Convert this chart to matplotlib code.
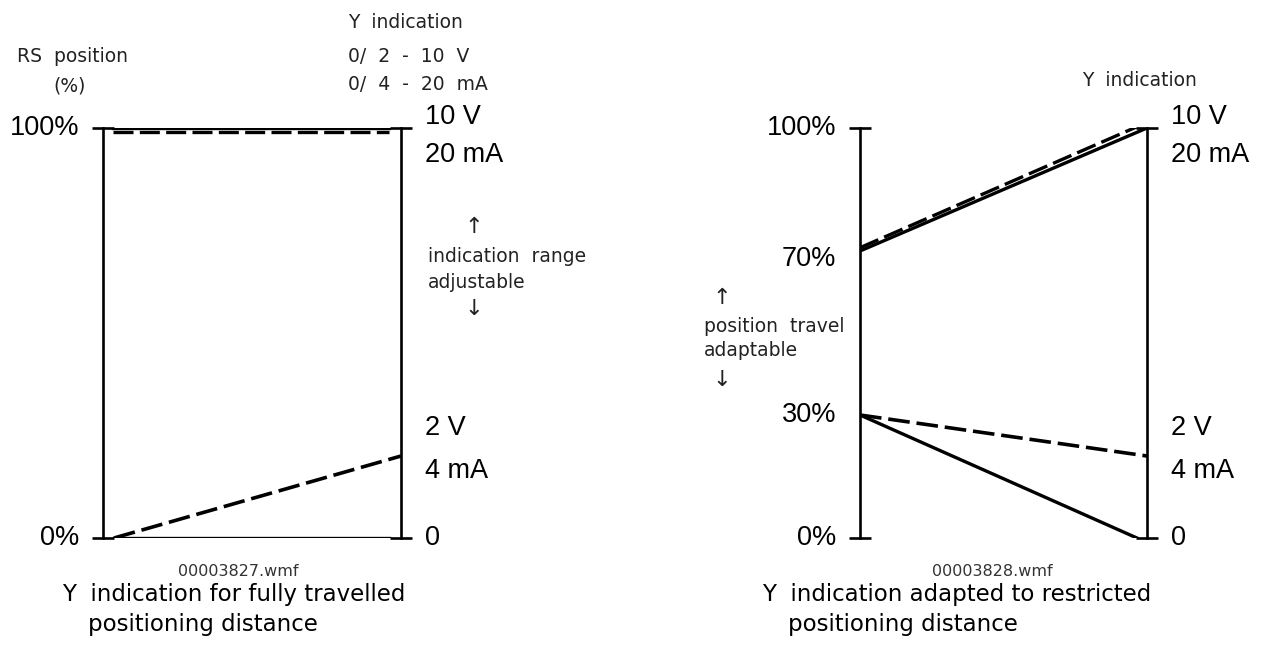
import numpy as np
import matplotlib.pyplot as plt

# left diagram: full travel
full_x = [0.0, 1.0]
full_top_solid = [100, 100]
full_top_dash = [99, 99]
full_bot_solid = [0, 0]
full_bot_dash = [0, 20]

# right diagram: restricted travel
restr_x = [0.0, 1.0]
restr_top_solid = [70, 100]
restr_top_dash = [70.8, 100.3]
restr_bot_solid = [30, 0]
restr_bot_dash = [30, 20]

W, H = 1267, 664
fig = plt.figure(figsize=(W / 100, H / 100), dpi=100)
big = dict(family='Liberation Sans', fontsize=19.5, color='black')
small = dict(family='DejaVu Sans', fontsize=13.5, color='#222222')
arrow = dict(family='DejaVu Sans', fontsize=16, color='#222222')
cap = dict(family='DejaVu Sans', fontsize=16.5, color='black')
DASH = (6, 1.9)


def px(x, y):
    return x / W, 1 - y / H


def setup(ax):
    ax.set_xlim(0, 1)
    ax.set_ylim(0, 100)
    for s in ['top', 'bottom']:
        ax.spines[s].set_visible(False)
    for s in ['left', 'right']:
        ax.spines[s].set_linewidth(1.9)
    ax.set_xticks([])
    ax.set_yticks([0, 100])
    ax.tick_params(axis='y', direction='inout', length=16, width=1.9,
                   left=True, right=True, labelleft=False, labelright=False)
    ax.patch.set_alpha(0)


def lab(ax, side, y, s, dy=0):
    if side == 'l':
        ax.annotate(s, xy=(0, y), xycoords=('axes fraction', 'data'),
                    xytext=(-17, dy), textcoords='offset points',
                    ha='right', va='center', **big)
    else:
        ax.annotate(s, xy=(1, y), xycoords=('axes fraction', 'data'),
                    xytext=(17, dy), textcoords='offset points',
                    ha='left', va='center', **big)


# ---- left panel
ax1 = fig.add_axes([103 / W, 1 - 538 / H, 298 / W, 410 / H])
setup(ax1)
ax1.plot([0.035, 0.96], full_top_solid, 'k-', lw=2.4)
ax1.plot([0.035, 0.96], full_top_dash, 'k', lw=2.4, dashes=DASH)
ax1.plot([0.037, 0.96], full_bot_solid, 'k-', lw=2.4)
ax1.plot([0.037, 1.0], full_bot_dash, 'k', lw=2.6, dashes=DASH)
lab(ax1, 'l', 100, '100%')
lab(ax1, 'l', 0, '0%')
lab(ax1, 'r', 100, '10 V', 8)
lab(ax1, 'r', 100, '20 mA', -19.5)
lab(ax1, 'r', 20, '2 V', 20)
lab(ax1, 'r', 20, '4 mA', -11)
lab(ax1, 'r', 0, '0', 0)

# ---- right panel
ax2 = fig.add_axes([860 / W, 1 - 538 / H, 287 / W, 410 / H])
setup(ax2)
ax2.plot([0, 1.0], restr_top_solid, 'k-', lw=2.4)
ax2.plot([0, 0.965], restr_top_dash, 'k', lw=2.4, dashes=DASH)
ax2.plot([0, 0.965], restr_bot_solid, 'k-', lw=2.4)
ax2.plot([0, 1.0], restr_bot_dash, 'k', lw=2.6, dashes=DASH)
lab(ax2, 'l', 100, '100%')
lab(ax2, 'l', 70, '70%', -6)
lab(ax2, 'l', 30, '30%')
lab(ax2, 'l', 0, '0%')
lab(ax2, 'r', 100, '10 V', 8)
lab(ax2, 'r', 100, '20 mA', -19.5)
lab(ax2, 'r', 20, '2 V', 20)
lab(ax2, 'r', 20, '4 mA', -11)
lab(ax2, 'r', 0, '0', 0)

# ---- header texts
fig.text(*px(17, 57), 'RS  position', ha='left', va='center', **small)
fig.text(*px(53, 86), '(%)', ha='left', va='center', **small)
fig.text(*px(348, 22), 'Y  indication', ha='left', va='center', **small)
fig.text(*px(348, 56), '0/  2  -  10  V', ha='left', va='center', **small)
fig.text(*px(348, 84), '0/  4  -  20  mA', ha='left', va='center', **small)
fig.text(*px(1082, 80), 'Y  indication', ha='left', va='center', **small)

# adjustable range notes
fig.text(*px(474, 227), '\u2191', ha='center', va='center', **arrow)
fig.text(*px(428, 257), 'indication  range', ha='left', va='center', **small)
fig.text(*px(428, 283), 'adjustable', ha='left', va='center', **small)
fig.text(*px(474, 309), '\u2193', ha='center', va='center', **arrow)

fig.text(*px(722, 298), '\u2191', ha='center', va='center', **arrow)
fig.text(*px(704, 326), 'position  travel', ha='left', va='center', **small)
fig.text(*px(704, 351), 'adaptable', ha='left', va='center', **small)
fig.text(*px(722, 380), '\u2193', ha='center', va='center', **arrow)

# file names
fname = dict(family='DejaVu Sans', fontsize=11.5, color='#333333')
fig.text(*px(238, 571), '00003827.wmf', ha='center', va='center', **fname)
fig.text(*px(992, 571), '00003828.wmf', ha='center', va='center', **fname)

# captions
fig.text(*px(62, 595), 'Y  indication for fully travelled', ha='left', va='center', **cap)
fig.text(*px(88, 624), 'positioning distance', ha='left', va='center', **cap)
fig.text(*px(762, 595), 'Y  indication adapted to restricted', ha='left', va='center', **cap)
fig.text(*px(788, 624), 'positioning distance', ha='left', va='center', **cap)

fig.savefig('out.png', dpi=100, facecolor='white')
